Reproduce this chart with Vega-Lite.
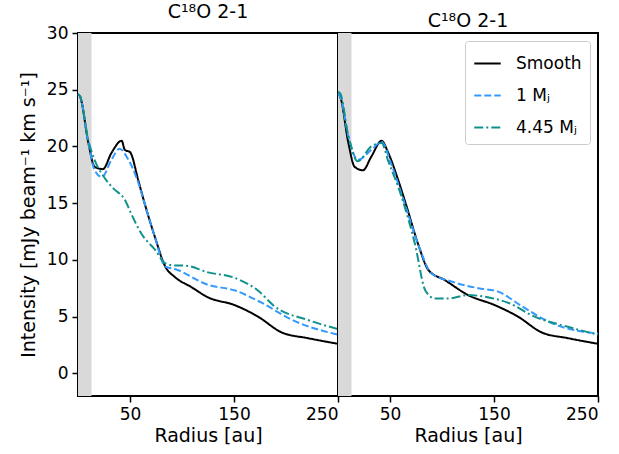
{
  "$schema": "https://vega.github.io/schema/vega-lite/v6.json",
  "padding": {"left": 18, "top": 2, "right": 5, "bottom": 5},
  "bounds": "flush",
  "background": "white",
  "config": {
    "font": "DejaVu Sans",
    "view": {"stroke": "black", "strokeWidth": 2},
    "axis": {"labelFontSize": 17, "titleFontSize": 19, "titleFontWeight": "normal", "tickColor": "black", "tickWidth": 1.5, "tickSize": 6, "domain": false, "grid": false, "labelColor": "black", "titleColor": "black", "labelPadding": 4},
    "title": {"fontSize": 19, "fontWeight": "normal", "offset": 2, "color": "black"},
    "legend": {"title": null, "orient": "top-right", "offset": 8, "labelFontSize": 17, "symbolType": "stroke", "symbolStrokeWidth": 2, "symbolSize": 700, "rowPadding": 9, "padding": 8, "strokeColor": "#cccccc", "fillColor": "white", "cornerRadius": 3, "labelOffset": 14, "labelColor": "black"},
    "concat": {"spacing": 0}
  },
  "resolve": {"legend": {"color": "independent", "strokeDash": "independent"}},
  "datasets": {
    "curves": [
      {"panel": "L", "model": "Smooth", "r": 0, "v": 24.6},
      {"panel": "L", "model": "Smooth", "r": 2, "v": 24.4},
      {"panel": "L", "model": "Smooth", "r": 10, "v": 20.3},
      {"panel": "L", "model": "Smooth", "r": 16, "v": 18.2},
      {"panel": "L", "model": "Smooth", "r": 24, "v": 18.0},
      {"panel": "L", "model": "Smooth", "r": 32, "v": 19.4},
      {"panel": "L", "model": "Smooth", "r": 42, "v": 20.5},
      {"panel": "L", "model": "Smooth", "r": 45, "v": 19.7},
      {"panel": "L", "model": "Smooth", "r": 50, "v": 19.5},
      {"panel": "L", "model": "Smooth", "r": 58, "v": 17.0},
      {"panel": "L", "model": "Smooth", "r": 64, "v": 15.0},
      {"panel": "L", "model": "Smooth", "r": 74, "v": 12.0},
      {"panel": "L", "model": "Smooth", "r": 84, "v": 9.4},
      {"panel": "L", "model": "Smooth", "r": 93, "v": 8.5},
      {"panel": "L", "model": "Smooth", "r": 109, "v": 7.6},
      {"panel": "L", "model": "Smooth", "r": 125, "v": 6.7},
      {"panel": "L", "model": "Smooth", "r": 151, "v": 6.0},
      {"panel": "L", "model": "Smooth", "r": 173, "v": 5.0},
      {"panel": "L", "model": "Smooth", "r": 196, "v": 3.6},
      {"panel": "L", "model": "Smooth", "r": 221, "v": 3.1},
      {"panel": "L", "model": "Smooth", "r": 250, "v": 2.6},
      {"panel": "L", "model": "1 Mⱼ", "r": 0, "v": 24.6},
      {"panel": "L", "model": "1 Mⱼ", "r": 2, "v": 24.4},
      {"panel": "L", "model": "1 Mⱼ", "r": 10, "v": 20.3},
      {"panel": "L", "model": "1 Mⱼ", "r": 16, "v": 17.9},
      {"panel": "L", "model": "1 Mⱼ", "r": 23, "v": 17.3},
      {"panel": "L", "model": "1 Mⱼ", "r": 32, "v": 18.8},
      {"panel": "L", "model": "1 Mⱼ", "r": 40, "v": 19.8},
      {"panel": "L", "model": "1 Mⱼ", "r": 48, "v": 18.9},
      {"panel": "L", "model": "1 Mⱼ", "r": 58, "v": 16.8},
      {"panel": "L", "model": "1 Mⱼ", "r": 64, "v": 15.0},
      {"panel": "L", "model": "1 Mⱼ", "r": 74, "v": 12.0},
      {"panel": "L", "model": "1 Mⱼ", "r": 84, "v": 9.4},
      {"panel": "L", "model": "1 Mⱼ", "r": 93, "v": 9.2},
      {"panel": "L", "model": "1 Mⱼ", "r": 125, "v": 7.8},
      {"panel": "L", "model": "1 Mⱼ", "r": 151, "v": 7.3},
      {"panel": "L", "model": "1 Mⱼ", "r": 177, "v": 6.2},
      {"panel": "L", "model": "1 Mⱼ", "r": 206, "v": 4.7},
      {"panel": "L", "model": "1 Mⱼ", "r": 250, "v": 3.4},
      {"panel": "L", "model": "4.45 Mⱼ", "r": 0, "v": 24.6},
      {"panel": "L", "model": "4.45 Mⱼ", "r": 2, "v": 24.4},
      {"panel": "L", "model": "4.45 Mⱼ", "r": 10, "v": 20.5},
      {"panel": "L", "model": "4.45 Mⱼ", "r": 16, "v": 18.8},
      {"panel": "L", "model": "4.45 Mⱼ", "r": 25, "v": 17.3},
      {"panel": "L", "model": "4.45 Mⱼ", "r": 34, "v": 16.3},
      {"panel": "L", "model": "4.45 Mⱼ", "r": 45, "v": 15.3},
      {"panel": "L", "model": "4.45 Mⱼ", "r": 51, "v": 14.1},
      {"panel": "L", "model": "4.45 Mⱼ", "r": 61, "v": 12.3},
      {"panel": "L", "model": "4.45 Mⱼ", "r": 74, "v": 10.9},
      {"panel": "L", "model": "4.45 Mⱼ", "r": 84, "v": 9.7},
      {"panel": "L", "model": "4.45 Mⱼ", "r": 93, "v": 9.5},
      {"panel": "L", "model": "4.45 Mⱼ", "r": 102, "v": 9.5},
      {"panel": "L", "model": "4.45 Mⱼ", "r": 125, "v": 8.9},
      {"panel": "L", "model": "4.45 Mⱼ", "r": 151, "v": 8.4},
      {"panel": "L", "model": "4.45 Mⱼ", "r": 173, "v": 7.3},
      {"panel": "L", "model": "4.45 Mⱼ", "r": 189, "v": 5.9},
      {"panel": "L", "model": "4.45 Mⱼ", "r": 221, "v": 4.7},
      {"panel": "L", "model": "4.45 Mⱼ", "r": 250, "v": 3.9},
      {"panel": "R", "model": "Smooth", "r": 0, "v": 24.6},
      {"panel": "R", "model": "Smooth", "r": 2, "v": 24.4},
      {"panel": "R", "model": "Smooth", "r": 10, "v": 20.3},
      {"panel": "R", "model": "Smooth", "r": 16, "v": 18.2},
      {"panel": "R", "model": "Smooth", "r": 24, "v": 17.9},
      {"panel": "R", "model": "Smooth", "r": 32, "v": 19.1},
      {"panel": "R", "model": "Smooth", "r": 42, "v": 20.5},
      {"panel": "R", "model": "Smooth", "r": 48, "v": 19.5},
      {"panel": "R", "model": "Smooth", "r": 58, "v": 17.0},
      {"panel": "R", "model": "Smooth", "r": 66, "v": 14.7},
      {"panel": "R", "model": "Smooth", "r": 77, "v": 11.4},
      {"panel": "R", "model": "Smooth", "r": 87, "v": 9.1},
      {"panel": "R", "model": "Smooth", "r": 103, "v": 8.2},
      {"panel": "R", "model": "Smooth", "r": 125, "v": 6.9},
      {"panel": "R", "model": "Smooth", "r": 151, "v": 6.0},
      {"panel": "R", "model": "Smooth", "r": 173, "v": 5.0},
      {"panel": "R", "model": "Smooth", "r": 196, "v": 3.6},
      {"panel": "R", "model": "Smooth", "r": 221, "v": 3.1},
      {"panel": "R", "model": "Smooth", "r": 250, "v": 2.6},
      {"panel": "R", "model": "1 Mⱼ", "r": 0, "v": 24.6},
      {"panel": "R", "model": "1 Mⱼ", "r": 2, "v": 24.4},
      {"panel": "R", "model": "1 Mⱼ", "r": 10, "v": 20.9},
      {"panel": "R", "model": "1 Mⱼ", "r": 19, "v": 18.8},
      {"panel": "R", "model": "1 Mⱼ", "r": 32, "v": 19.7},
      {"panel": "R", "model": "1 Mⱼ", "r": 42, "v": 20.4},
      {"panel": "R", "model": "1 Mⱼ", "r": 51, "v": 18.5},
      {"panel": "R", "model": "1 Mⱼ", "r": 64, "v": 15.0},
      {"panel": "R", "model": "1 Mⱼ", "r": 77, "v": 11.4},
      {"panel": "R", "model": "1 Mⱼ", "r": 90, "v": 8.8},
      {"panel": "R", "model": "1 Mⱼ", "r": 109, "v": 8.1},
      {"panel": "R", "model": "1 Mⱼ", "r": 135, "v": 7.5},
      {"panel": "R", "model": "1 Mⱼ", "r": 154, "v": 7.2},
      {"panel": "R", "model": "1 Mⱼ", "r": 177, "v": 5.9},
      {"panel": "R", "model": "1 Mⱼ", "r": 206, "v": 4.4},
      {"panel": "R", "model": "1 Mⱼ", "r": 250, "v": 3.5},
      {"panel": "R", "model": "4.45 Mⱼ", "r": 0, "v": 24.8},
      {"panel": "R", "model": "4.45 Mⱼ", "r": 2, "v": 24.7},
      {"panel": "R", "model": "4.45 Mⱼ", "r": 10, "v": 20.9},
      {"panel": "R", "model": "4.45 Mⱼ", "r": 19, "v": 18.7},
      {"panel": "R", "model": "4.45 Mⱼ", "r": 32, "v": 20.0},
      {"panel": "R", "model": "4.45 Mⱼ", "r": 42, "v": 20.3},
      {"panel": "R", "model": "4.45 Mⱼ", "r": 48, "v": 18.8},
      {"panel": "R", "model": "4.45 Mⱼ", "r": 61, "v": 15.6},
      {"panel": "R", "model": "4.45 Mⱼ", "r": 74, "v": 11.4},
      {"panel": "R", "model": "4.45 Mⱼ", "r": 84, "v": 7.3},
      {"panel": "R", "model": "4.45 Mⱼ", "r": 93, "v": 6.6},
      {"panel": "R", "model": "4.45 Mⱼ", "r": 106, "v": 6.6},
      {"panel": "R", "model": "4.45 Mⱼ", "r": 125, "v": 6.9},
      {"panel": "R", "model": "4.45 Mⱼ", "r": 144, "v": 6.7},
      {"panel": "R", "model": "4.45 Mⱼ", "r": 164, "v": 6.2},
      {"panel": "R", "model": "4.45 Mⱼ", "r": 189, "v": 5.0},
      {"panel": "R", "model": "4.45 Mⱼ", "r": 221, "v": 4.1},
      {"panel": "R", "model": "4.45 Mⱼ", "r": 250, "v": 3.4}
    ],
    "band": [{"x0": 0, "x1": 13}]
  },
  "hconcat": [
    {
      "width": 260,
      "height": 363,
      "title": "C¹⁸O 2-1",
      "layer": [
        {
          "data": {"name": "band"},
          "mark": {"type": "rect", "color": "#d9d9d9"},
          "encoding": {
            "x": {"field": "x0", "type": "quantitative", "scale": {"domain": [0, 250], "nice": false}, "axis": {"values": [50, 150, 250], "title": "Radius [au]"}},
            "x2": {"field": "x1"}
          }
        },
        {
          "data": {"name": "curves"},
          "transform": [{"filter": "datum.panel == 'L'"}],
          "mark": {"type": "line", "strokeWidth": 2, "interpolate": "monotone"},
          "encoding": {
            "x": {"field": "r", "type": "quantitative"},
            "y": {"field": "v", "type": "quantitative", "scale": {"domain": [-2, 30], "nice": false}, "axis": {"values": [0, 5, 10, 15, 20, 25, 30], "title": "Intensity [mJy beam⁻¹ km s⁻¹]", "titlePadding": 8}},
            "color": {"field": "model", "type": "nominal", "scale": {"domain": ["Smooth", "1 Mⱼ", "4.45 Mⱼ"], "range": ["black", "#3399ff", "#10918a"]}, "legend": null},
            "strokeDash": {"field": "model", "type": "nominal", "scale": {"domain": ["Smooth", "1 Mⱼ", "4.45 Mⱼ"], "range": [[1, 0], [7, 3], [9, 3, 2, 3]]}, "legend": null}
          }
        }
      ]
    },
    {
      "width": 260,
      "height": 363,
      "title": "C¹⁸O 2-1",
      "layer": [
        {
          "data": {"name": "band"},
          "mark": {"type": "rect", "color": "#d9d9d9"},
          "encoding": {
            "x": {"field": "x0", "type": "quantitative", "scale": {"domain": [0, 250], "nice": false}, "axis": {"values": [50, 150, 250], "title": "Radius [au]"}},
            "x2": {"field": "x1"}
          }
        },
        {
          "data": {"name": "curves"},
          "transform": [{"filter": "datum.panel == 'R'"}],
          "mark": {"type": "line", "strokeWidth": 2, "interpolate": "monotone"},
          "encoding": {
            "x": {"field": "r", "type": "quantitative"},
            "y": {"field": "v", "type": "quantitative", "scale": {"domain": [-2, 30], "nice": false}, "axis": null},
            "color": {"field": "model", "type": "nominal", "scale": {"domain": ["Smooth", "1 Mⱼ", "4.45 Mⱼ"], "range": ["black", "#3399ff", "#10918a"]}},
            "strokeDash": {"field": "model", "type": "nominal", "scale": {"domain": ["Smooth", "1 Mⱼ", "4.45 Mⱼ"], "range": [[1, 0], [7, 3], [9, 3, 2, 3]]}}
          }
        }
      ]
    }
  ]
}
